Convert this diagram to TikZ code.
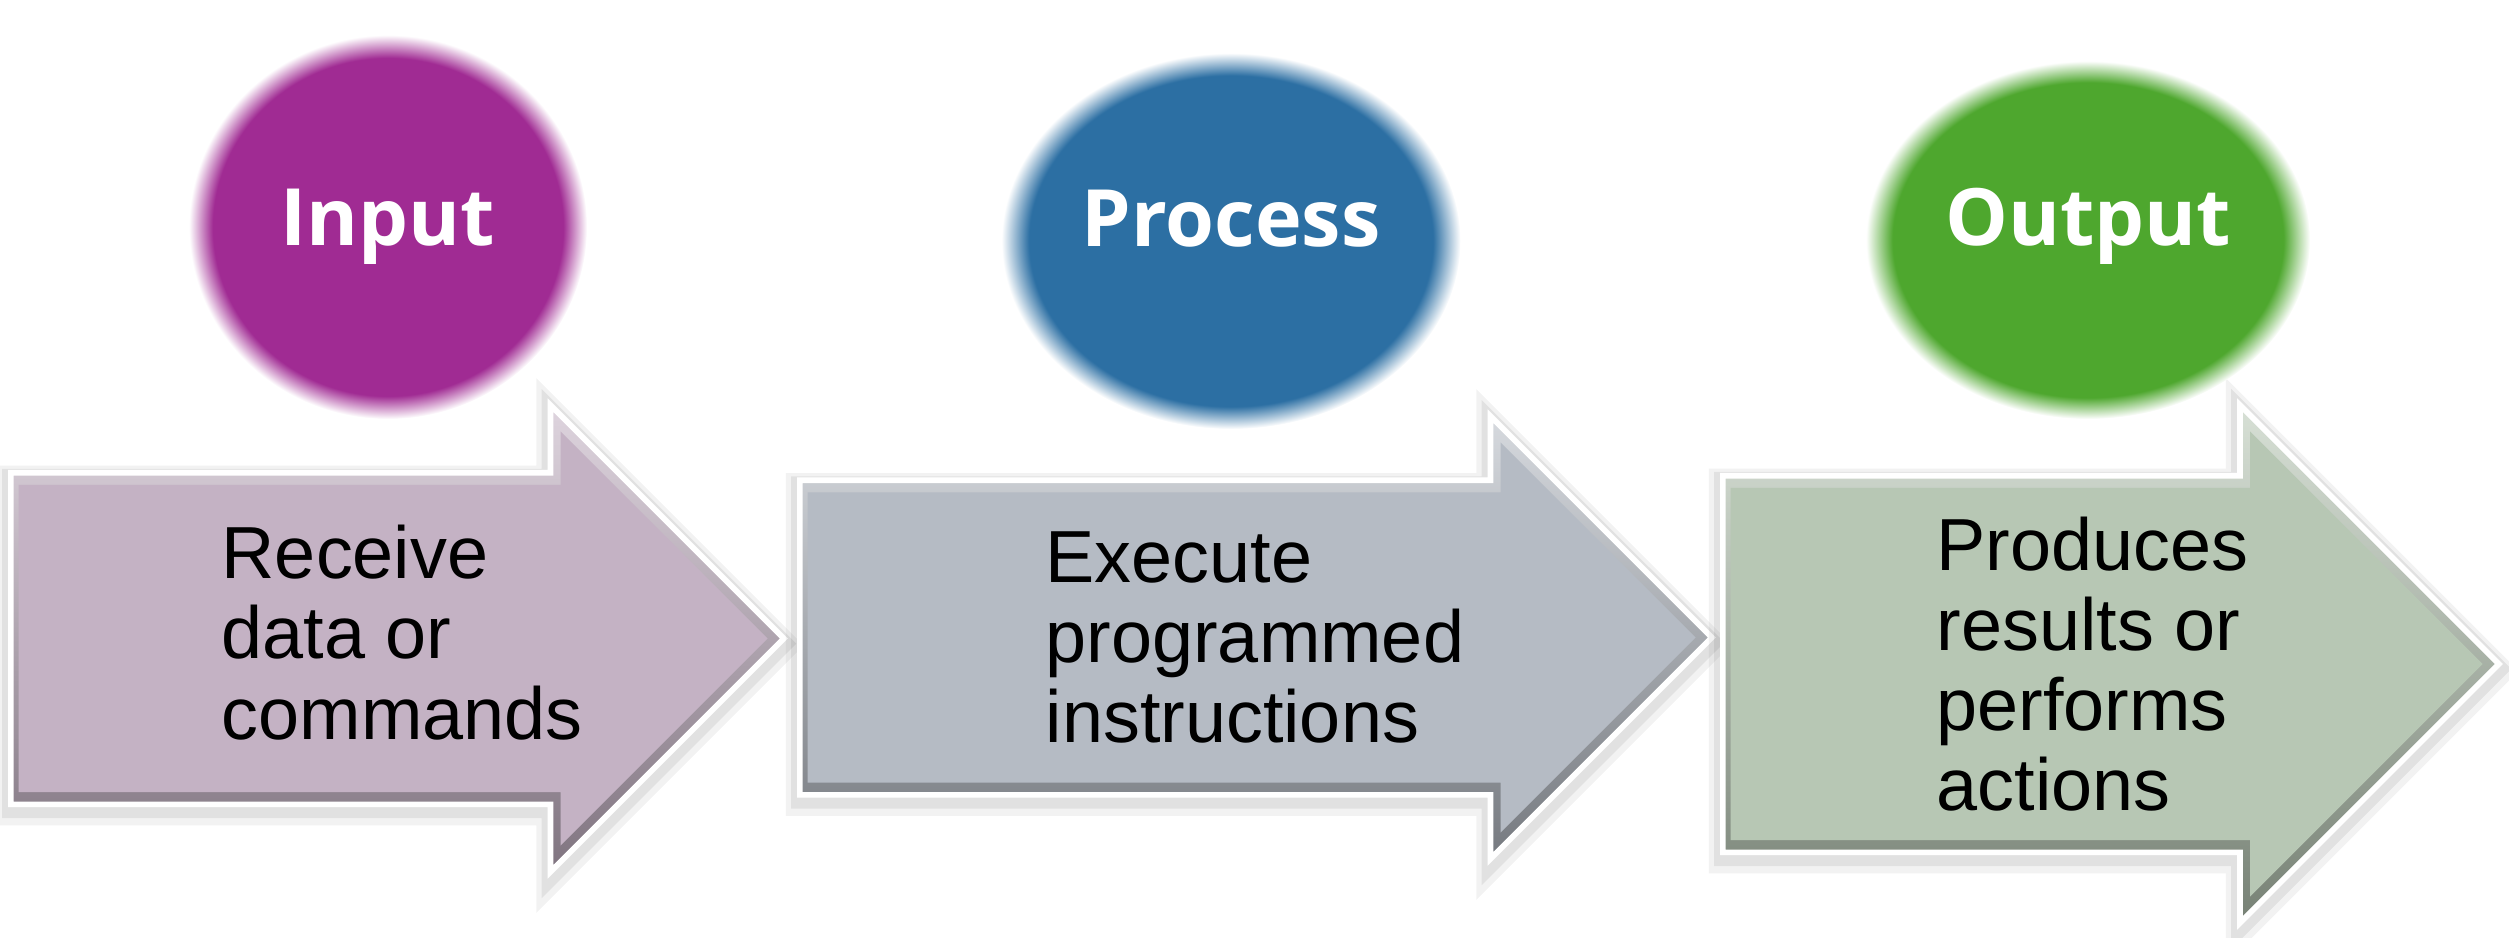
\documentclass[tikz,border=0pt]{standalone}
\usepackage{fontspec}
\setmainfont{Liberation Sans}
\newfontfamily\headfont{Open Sans}
\usepackage{xcolor}
\usetikzlibrary{shapes.geometric, shapes.arrows, positioning}

\definecolor{inputcol}{HTML}{A02B93}
\definecolor{processcol}{HTML}{2C6FA3}
\definecolor{outputcol}{HTML}{4EA72E}
\definecolor{inputarr}{HTML}{C4B2C4}
\definecolor{processarr}{HTML}{B5BBC4}
\definecolor{outputarr}{HTML}{B7C7B4}

% soft edged blob behind the stage names
\colorlet{blobcol}{inputcol}
\pgfdeclareradialshading[blobcol]{softedge}{\pgfpoint{0bp}{0bp}}{%
  color(0bp)=(blobcol); color(22bp)=(blobcol); color(25bp)=(white); color(50bp)=(white)}

\begin{document}
\begin{tikzpicture}[
  blob/.style={ellipse, shading=softedge, inner sep=0pt},
  blobcol/.code={\colorlet{blobcol}{#1}},
  headtxt/.style={inner sep=0pt, text=white, font=\headfont\bfseries\fontsize{22.5}{25}\selectfont},
  arrshape/.style={single arrow, single arrow tip angle=90, anchor=tail, inner xsep=0pt},
  flowarr/.style={arrshape, top color=#1!55!white, bottom color=#1!65!black, draw=white, line width=1.6pt,
    preaction={draw=black, draw opacity=0.05, line width=8pt, transform canvas={yshift=-0.7mm}},
    preaction={draw=black, draw opacity=0.07, line width=5pt, transform canvas={yshift=-0.5mm}}},
  bevel/.style={arrshape, fill=#1},
  txt/.style={align=left, inner sep=0pt, font=\fontsize{21}{22.8}\selectfont}
]
\useasboundingbox (0,0) rectangle (25.09,9.37);

% Arrows (bottom row), outer rim then flat face
\node[flowarr=inputarr, minimum height=7.73cm, inner ysep=1.63cm, single arrow head extend=0.675cm] (inArr) at (0.08,2.985) {};
\node[flowarr=processarr, minimum height=9.12cm, inner ysep=1.545cm, single arrow head extend=0.64cm] (procArr) at (7.97,2.995) {};
\node[flowarr=outputarr, minimum height=7.76cm, inner ysep=1.855cm, single arrow head extend=0.705cm] (outArr) at (17.20,2.73) {};
\node[bevel=inputarr, minimum height=7.489cm, inner ysep=1.53cm, single arrow head extend=0.534cm] (inFace) at ([xshift=0.1cm]inArr.tail) {};
\node[bevel=processarr, minimum height=8.879cm, inner ysep=1.445cm, single arrow head extend=0.499cm] (procFace) at ([xshift=0.1cm]procArr.tail) {};
\node[bevel=outputarr, minimum height=7.519cm, inner ysep=1.755cm, single arrow head extend=0.564cm] (outFace) at ([xshift=0.1cm]outArr.tail) {};

% Arrow texts
\node[txt, right=2.13cm of inArr.tail, yshift=0.06cm] (inTxt) {Receive\\data or\\commands};
\node[txt, right=2.48cm of procArr.tail] (procTxt) {Execute\\programmed\\instructions};
\node[txt, right=2.16cm of outArr.tail] (outTxt) {Produces\\results or\\performs\\actions};

% Stage names (top row)
\node[blob, blobcol=inputcol, minimum width=3.98cm, minimum height=3.84cm] (inBlob) at (3.88,7.10) {};
\node[blob, blobcol=processcol, minimum width=4.59cm, minimum height=3.76cm] (procBlob) at (12.31,6.96) {};
\node[blob, blobcol=outputcol, minimum width=4.44cm, minimum height=3.58cm] (outBlob) at (20.88,6.97) {};
\node[headtxt] (inLbl) at (inBlob.center) {Input};
\node[headtxt] (procLbl) at ([yshift=0.22cm]procBlob.center) {Process};
\node[headtxt] (outLbl) at ([yshift=0.14cm]outBlob.center) {Output};

\end{tikzpicture}
\end{document}
